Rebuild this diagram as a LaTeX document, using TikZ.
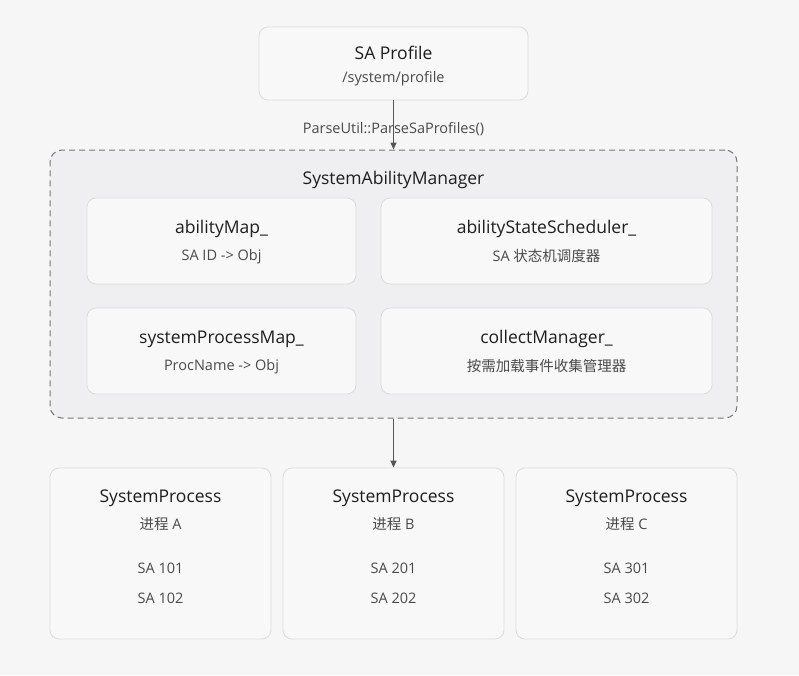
\documentclass[tikz,border=0pt]{standalone}
\usepackage{fontspec}
\setmainfont{Open Sans}
\newfontfamily\cjk{Noto Sans CJK SC}
\usetikzlibrary{arrows.meta}
\definecolor{pagebg}{HTML}{F6F6F6}
\definecolor{boxbg}{HTML}{F8F8F8}
\definecolor{boxline}{HTML}{DCDCDC}
\definecolor{contbg}{HTML}{EFEFF1}
\definecolor{contline}{HTML}{777777}
\definecolor{titlec}{HTML}{1E1E1E}
\definecolor{subc}{HTML}{4A4A4A}
\definecolor{arrowc}{HTML}{555555}
\tikzset{
  card/.style={draw=boxline, line width=0.8pt, fill=boxbg, rounded corners=9pt},
  cont/.style={draw=contline, line width=1pt, dashed, dash pattern=on 6pt off 4pt, fill=contbg, rounded corners=12pt},
  ttl/.style={text=titlec, font=\fontsize{17.5}{20}\selectfont, inner sep=0pt},
  sub/.style={text=subc, font=\fontsize{14.5}{17}\selectfont, inner sep=0pt},
  lbl/.style={text=subc, font=\fontsize{14.5}{17}\selectfont, inner sep=1pt},
  conn/.style={draw=arrowc, line width=1.5pt, -{Triangle[length=7pt,width=6pt]}},
}
\begin{document}
\begin{tikzpicture}[x=1pt,y=-1pt]
\useasboundingbox[fill=pagebg] (0,0) rectangle (799,675);
% SA Profile
\node[card, minimum width=269pt, minimum height=73pt, inner sep=0pt] (prof) at (393.5,63.5) {};
\node[ttl] (profT) at (393.5,53) {SA Profile};
\node[sub] (profS) at (393.5,79) {/system/profile};
% container
\node[cont, minimum width=687pt, minimum height=268pt, inner sep=0pt] (sam) at (393.5,284) {};
\node[ttl] (samT) at (393.5,180) {SystemAbilityManager};
% inner cards
\node[card, minimum width=269pt, minimum height=86pt, inner sep=0pt] (am) at (221.5,241) {};
\node[ttl] (amT) at (221.5,229) {abilityMap\_};
\node[sub] (amS) at (221.5,256.5) {SA ID -> Obj};
\node[card, minimum width=331pt, minimum height=86pt, inner sep=0pt] (ass) at (546.5,241) {};
\node[ttl] (assT) at (546.5,229) {abilityStateScheduler\_};
\node[sub] (assS) at (546.5,255.5) {SA {\cjk 状态机调度器}};
\node[card, minimum width=269pt, minimum height=86pt, inner sep=0pt] (spm) at (221.5,351) {};
\node[ttl] (spmT) at (221.5,339) {systemProcessMap\_};
\node[sub] (spmS) at (221.5,366.5) {ProcName -> Obj};
\node[card, minimum width=331pt, minimum height=86pt, inner sep=0pt] (cm) at (546.5,351) {};
\node[ttl] (cmT) at (546.5,339) {collectManager\_};
\node[sub] (cmS) at (546.5,365.5) {\cjk 按需加载事件收集管理器};
% processes
\foreach \nm/\cx/\lt/\a/\b in {pa/160.5/A/101/102, pb/393.5/B/201/202, pc/626.5/C/301/302}{
  \node[card, minimum width=221pt, minimum height=171pt, inner sep=0pt] (\nm) at (\cx,553.5) {};
  \node[ttl] (\nm T) at (\cx,498) {SystemProcess};
  \node[sub] (\nm S) at (\cx,524.5) {{\cjk 进程} \lt};
  \node[sub] (\nm 1) at (\cx,568.5) {SA \a};
  \node[sub] (\nm 2) at (\cx,598.5) {SA \b};
}
% connectors
\draw[conn] (prof.south) -- (sam.north);
\node[lbl] (parse) at (393.5,129) {ParseUtil::ParseSaProfiles()};
\draw[conn] (sam.south) -- (pb.north);
\end{tikzpicture}
\end{document}
